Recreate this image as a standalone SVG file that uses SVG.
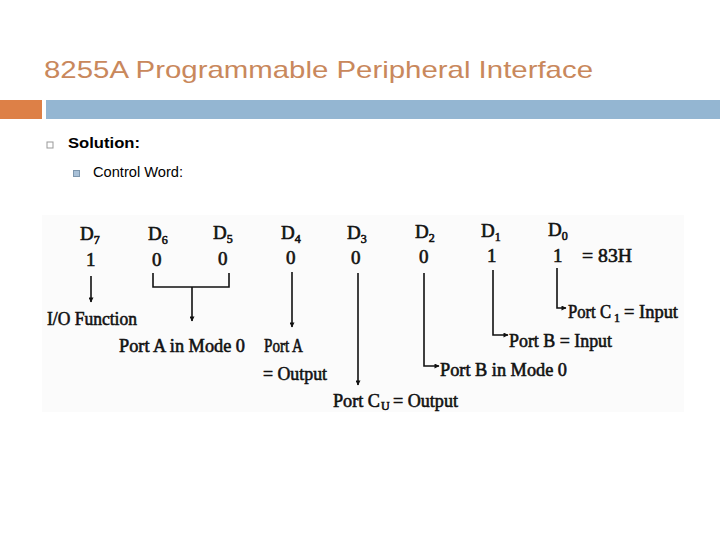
<svg xmlns="http://www.w3.org/2000/svg" width="720" height="540" viewBox="0 0 720 540">
<style>
.title{font-family:"Liberation Sans","DejaVu Sans",sans-serif;font-size:24px;fill:#C9885C}
.body{font-family:"Liberation Sans","DejaVu Sans",sans-serif;fill:#000}
.d{font-family:"Liberation Serif","Times New Roman",serif;font-size:19px;fill:#111;stroke:#111;stroke-width:0.6}
.sub{font-size:12px}
.wire{fill:none;stroke:#111;stroke-width:1.6}
</style>
<defs>
<marker id="ah" viewBox="0 0 10 10" refX="9" refY="5" markerWidth="6" markerHeight="5" orient="auto" markerUnits="userSpaceOnUse">
<path d="M0,0 L10,5 L0,10 Z" fill="#111"/>
</marker>
</defs>
<rect width="720" height="540" fill="#fff"/>
<g id="header">
<text class="title" x="44" y="78" textLength="549" lengthAdjust="spacingAndGlyphs">8255A Programmable Peripheral Interface</text>
<rect x="0" y="100" width="42" height="19" fill="#DD8047"/>
<rect x="46" y="100" width="674" height="19" fill="#94B6D2"/>
</g>
<g id="bullets">
<rect x="47" y="142" width="6" height="6" fill="none" stroke="#999" stroke-width="1"/>
<text class="body" x="68" y="148" font-size="15" font-weight="bold" textLength="72" lengthAdjust="spacingAndGlyphs">Solution:</text>
<rect x="73.5" y="170.5" width="6" height="6" fill="#A9C1D8" stroke="#7E97AE" stroke-width="1"/>
<text class="body" x="93" y="177" font-size="14" textLength="90" lengthAdjust="spacingAndGlyphs">Control Word:</text>
</g>
<rect x="42" y="215" width="642" height="197" fill="#FBFBFB"/>
<g id="bits">
<text class="d" x="80" y="240">D<tspan class="sub" dy="4">7</tspan></text>
<text class="d" x="148" y="240">D<tspan class="sub" dy="4">6</tspan></text>
<text class="d" x="213" y="239">D<tspan class="sub" dy="4">5</tspan></text>
<text class="d" x="281" y="239">D<tspan class="sub" dy="4">4</tspan></text>
<text class="d" x="347" y="239">D<tspan class="sub" dy="4">3</tspan></text>
<text class="d" x="415" y="238">D<tspan class="sub" dy="4">2</tspan></text>
<text class="d" x="481" y="237">D<tspan class="sub" dy="4">1</tspan></text>
<text class="d" x="548" y="236">D<tspan class="sub" dy="4">0</tspan></text>
<text class="d" x="86" y="266">1</text>
<text class="d" x="152" y="266">0</text>
<text class="d" x="218" y="265">0</text>
<text class="d" x="286" y="264">0</text>
<text class="d" x="351" y="264">0</text>
<text class="d" x="419" y="263">0</text>
<text class="d" x="487" y="262">1</text>
<text class="d" x="553" y="262">1</text>
<text class="d" x="582" y="262" textLength="50" lengthAdjust="spacingAndGlyphs">= 83H</text>
</g>
<g id="connectors">
<line class="wire" x1="91" y1="276" x2="91" y2="302" marker-end="url(#ah)"/>
<path class="wire" d="M153,273 V287 H229 V273"/>
<line class="wire" x1="192" y1="287" x2="192" y2="321" marker-end="url(#ah)"/>
<line class="wire" x1="292" y1="272" x2="292" y2="327" marker-end="url(#ah)"/>
<line class="wire" x1="358" y1="273" x2="358" y2="385" marker-end="url(#ah)"/>
<path class="wire" d="M424,273 V366 H439" marker-end="url(#ah)"/>
<path class="wire" d="M493,270 V335 H508" marker-end="url(#ah)"/>
<path class="wire" d="M557,268 V308 H566" marker-end="url(#ah)"/>
</g>
<g id="labels">
<text class="d" x="47" y="325" textLength="90" lengthAdjust="spacingAndGlyphs">I/O Function</text>
<text class="d" x="119" y="352" textLength="126" lengthAdjust="spacingAndGlyphs">Port A in Mode 0</text>
<text class="d" x="264" y="352" textLength="39" lengthAdjust="spacingAndGlyphs">Port A</text>
<text class="d" x="263" y="380" textLength="64" lengthAdjust="spacingAndGlyphs">= Output</text>
<text class="d" x="333" y="407" textLength="47" lengthAdjust="spacingAndGlyphs">Port C</text>
<text class="d sub" x="381" y="410">U</text>
<text class="d" x="393" y="407" textLength="65" lengthAdjust="spacingAndGlyphs">= Output</text>
<text class="d" x="440" y="376" textLength="127" lengthAdjust="spacingAndGlyphs">Port B in Mode 0</text>
<text class="d" x="509" y="347" textLength="103" lengthAdjust="spacingAndGlyphs">Port B = Input</text>
<text class="d" x="568" y="318" textLength="43" lengthAdjust="spacingAndGlyphs">Port C</text>
<text class="d sub" x="614" y="322">1</text>
<text class="d" x="624" y="318" textLength="54" lengthAdjust="spacingAndGlyphs">= Input</text>
</g>
</svg>
